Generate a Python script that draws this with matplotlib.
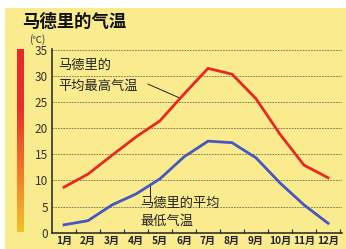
import matplotlib.pyplot as plt
from matplotlib.patches import Rectangle
from matplotlib.colors import LinearSegmentedColormap
import numpy as np

plt.rcParams['font.family'] = ['Noto Sans CJK SC', 'DejaVu Sans']

months = ['1月', '2月', '3月', '4月', '5月', '6月', '7月', '8月', '9月', '10月', '11月', '12月']
high_temp = [8.7, 11.2, 14.8, 18.3, 21.4, 26.5, 31.4, 30.3, 25.6, 18.8, 12.9, 10.5]
low_temp = [1.5, 2.3, 5.3, 7.4, 10.3, 14.5, 17.5, 17.2, 14.3, 9.5, 5.3, 1.8]
y_ticks = [0, 5, 10, 15, 20, 25, 30, 35]

bg = '#FAEC8E'
red = '#E8291F'
blue = '#4656C2'

fig = plt.figure(figsize=(3.46, 2.49), dpi=100)
fig.patch.set_facecolor('white')
fig.patches.append(Rectangle((5 / 346, 0), 1, 1 - 8 / 249, transform=fig.transFigure,
                             facecolor=bg, edgecolor='none', zorder=-10))

ax = fig.add_axes([52 / 346, 16.3 / 249, 290 / 346, 183.4 / 249])
ax.set_facecolor('none')
x = np.arange(len(months))
ax.plot(x, high_temp, color=red, lw=2.0, zorder=3, solid_joinstyle='miter')
ax.plot(x, low_temp, color=blue, lw=2.0, zorder=3, solid_joinstyle='miter')

ax.set_xlim(-0.5, 11.58)
ax.set_ylim(0, 35.05)
ax.set_yticks(y_ticks)
ax.set_yticklabels([str(v) for v in y_ticks], fontsize=8.5, color='#333333')
ax.set_xticks(x + 0.5, minor=False)
ax.set_xticklabels([])
ax.set_xticks(x, minor=True)
ax.set_xticklabels(months, minor=True, fontsize=7.3, color='#222222', fontweight='bold')
ax.tick_params(axis='x', which='major', direction='in', length=3, width=0.9, color='#333333')
ax.tick_params(axis='x', which='minor', length=0, pad=2)
ax.tick_params(axis='y', length=0, pad=3)
for s in ['top', 'right']:
    ax.spines[s].set_visible(False)
for s in ['left', 'bottom']:
    ax.spines[s].set_linewidth(1.1)
    ax.spines[s].set_color('#222222')
for v in y_ticks[1:]:
    ax.axhline(v, color='#6E6A55', lw=0.6, ls=(0, (2, 1.3)), zorder=1)

# annotations
ax.text(-0.25, 31.9, '马德里的', fontsize=9.5, va='center', ha='left', color='#222222')
ax.text(-0.25, 28.0, '平均最高气温', fontsize=9.5, va='center', ha='left', color='#222222')
ax.plot([3.5, 4.79], [28.4, 25.8], color='#222222', lw=0.7, zorder=2)
ax.text(3.17, 5.7, '马德里的平均', fontsize=9.5, va='center', ha='left', color='#222222')
ax.text(3.17, 2.25, '最低气温', fontsize=9.5, va='center', ha='left', color='#222222')
ax.plot([3.58, 3.58], [7.0, 9.0], color='#222222', lw=0.7, zorder=2)

# title and unit
fig.text(22 / 346, 1 - 21.5 / 249, '马德里的气温', fontsize=12.5, fontweight='bold',
         va='center', ha='left', color='#111111')
fig.text(29 / 346, 1 - 39.5 / 249, '(℃)', fontsize=7, va='center', ha='left', color='#333333')

# gradient bar
cax = fig.add_axes([17 / 346, 16.5 / 249, 7 / 346, 183 / 249])
grad = np.linspace(0, 1, 256).reshape(-1, 1)
cmap = LinearSegmentedColormap.from_list('bar', ['#F2C12C', '#F3782A', '#E8302A', '#E82A2A'])
cax.imshow(grad, aspect='auto', cmap=cmap, origin='lower')
cax.axis('off')

fig.savefig('out.png', dpi=100, facecolor=fig.get_facecolor())
